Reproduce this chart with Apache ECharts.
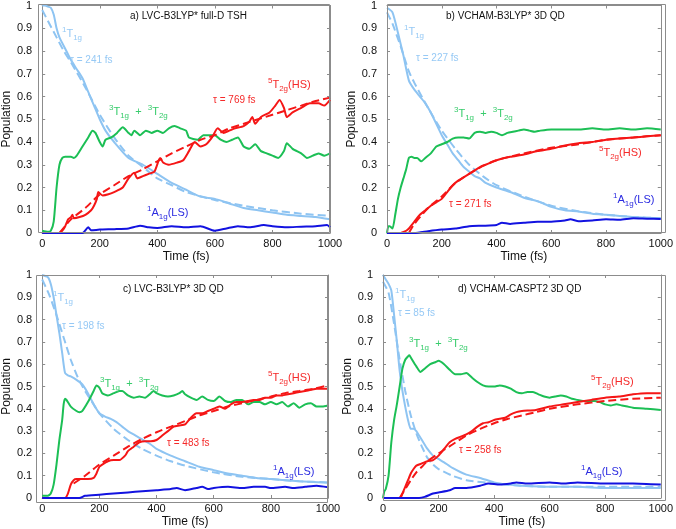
<!DOCTYPE html>
<html><head><meta charset="utf-8">
<script src="https://cdn.jsdelivr.net/npm/echarts@6/dist/echarts.min.js"></script>
<style>html,body{margin:0;padding:0;background:#fff}#c{width:676px;height:529px}</style>
</head><body><div id="c"></div>
<script>
// ---------- data (time fs, population) ----------
const xTicks = [0, 200, 400, 600, 800, 1000];
const yTicks = [0, 0.1, 0.2, 0.3, 0.4, 0.5, 0.6, 0.7, 0.8, 0.9, 1];

// Panel a) LVC-B3LYP* full-D TSH
const a_T1 = [[0,1.0],[10,1.0],[20,0.995],[30,0.99],[40,0.96],[50,0.9],[60,0.86],[80,0.81],[100,0.76],[120,0.72],[140,0.68],[160,0.62],[180,0.56],[200,0.5],[220,0.45],[250,0.4],[300,0.33],[350,0.3],[400,0.26],[450,0.22],[500,0.19],[550,0.16],[600,0.15],[650,0.13],[700,0.11],[750,0.1],[800,0.09],[850,0.08],[900,0.075],[950,0.07],[1000,0.06]];
const a_T1fit = [[0,0.98],[25,0.92],[50,0.86],[75,0.8],[100,0.75],[150,0.64],[200,0.52],[250,0.42],[300,0.34],[350,0.29],[400,0.24],[450,0.21],[500,0.18],[600,0.145],[700,0.12],[800,0.1],[900,0.085],[1000,0.075]];
const a_T3 = [[0,0.01],[20,0.005],[30,0.01],[40,0.05],[50,0.2],[60,0.3],[70,0.33],[80,0.335],[100,0.335],[110,0.33],[120,0.34],[140,0.38],[160,0.42],[175,0.45],[185,0.44],[200,0.4],[210,0.38],[220,0.41],[240,0.42],[260,0.44],[280,0.465],[300,0.44],[310,0.43],[320,0.45],[340,0.43],[360,0.45],[380,0.44],[400,0.45],[420,0.44],[440,0.46],[460,0.47],[480,0.46],[500,0.45],[510,0.42],[540,0.41],[560,0.43],[580,0.43],[600,0.43],[620,0.41],[640,0.4],[660,0.41],[680,0.42],[700,0.38],[720,0.37],[740,0.39],[760,0.36],[780,0.35],[800,0.34],[820,0.33],[840,0.36],[850,0.395],[870,0.37],[900,0.35],[920,0.33],[940,0.34],[960,0.35],[980,0.34],[1000,0.35]];
const a_T5 = [[0,0],[60,0],[70,0.01],[80,0.03],[90,0.06],[100,0.07],[105,0.08],[110,0.065],[130,0.07],[150,0.08],[170,0.1],[180,0.12],[190,0.15],[195,0.18],[210,0.165],[230,0.17],[250,0.18],[280,0.2],[300,0.24],[320,0.265],[330,0.24],[350,0.25],[370,0.26],[390,0.27],[405,0.32],[410,0.33],[420,0.31],[440,0.3],[470,0.31],[490,0.32],[510,0.36],[530,0.4],[550,0.38],[570,0.39],[590,0.42],[610,0.46],[630,0.44],[650,0.45],[670,0.46],[700,0.47],[720,0.49],[730,0.51],[740,0.48],[760,0.51],[790,0.53],[810,0.56],[825,0.585],[840,0.55],[850,0.51],[870,0.53],[900,0.55],[930,0.57],[960,0.57],[980,0.56],[1000,0.585]];
const a_T5fit = [[60,0],[100,0.06],[150,0.11],[200,0.17],[250,0.21],[300,0.25],[350,0.28],[400,0.315],[450,0.35],[500,0.38],[550,0.41],[600,0.43],[650,0.46],[700,0.48],[750,0.5],[800,0.52],[850,0.54],[900,0.56],[950,0.58],[1000,0.595]];
const a_A1 = [[0,0],[140,0],[160,0.025],[170,0.012],[200,0.015],[250,0.017],[300,0.02],[340,0.032],[370,0.025],[400,0.022],[450,0.03],[500,0.025],[550,0.03],[600,0.01],[640,0.02],[680,0.03],[720,0.025],[770,0.035],[800,0.03],[850,0.025],[900,0.028],[950,0.03],[990,0.035],[1000,0.025]];

// Panel b) VCHAM-B3LYP* 3D QD
const b_T1 = [[0,0.99],[20,0.97],[40,0.88],[60,0.78],[80,0.67],[100,0.63],[120,0.6],[140,0.57],[160,0.53],[180,0.48],[200,0.43],[220,0.39],[240,0.35],[260,0.32],[280,0.29],[300,0.27],[320,0.25],[340,0.24],[360,0.22],[400,0.2],[450,0.18],[500,0.155],[550,0.14],[600,0.115],[650,0.1],[700,0.095],[750,0.085],[800,0.08],[850,0.075],[900,0.07],[1000,0.065]];
const b_T1fit = [[0,0.97],[20,0.92],[50,0.82],[80,0.71],[100,0.66],[150,0.55],[200,0.45],[250,0.37],[300,0.3],[350,0.25],[400,0.21],[500,0.16],[600,0.12],[700,0.095],[800,0.08],[900,0.07],[1000,0.065]];
const b_T3 = [[0,0],[5,0.03],[10,0.03],[20,0.02],[30,0.08],[40,0.15],[50,0.2],[60,0.24],[70,0.28],[80,0.33],[90,0.335],[100,0.33],[110,0.33],[125,0.315],[140,0.33],[160,0.35],[180,0.38],[200,0.39],[220,0.4],[240,0.415],[260,0.42],[280,0.42],[300,0.415],[320,0.44],[340,0.445],[360,0.44],[380,0.445],[400,0.44],[420,0.43],[440,0.44],[460,0.445],[480,0.45],[500,0.455],[520,0.45],[540,0.445],[560,0.45],[600,0.455],[650,0.455],[700,0.455],[750,0.46],[800,0.455],[850,0.46],[900,0.455],[950,0.46],[1000,0.455]];
const b_T5 = [[0,0],[50,0],[60,0.005],[70,0.01],[80,0.02],[90,0.035],[100,0.05],[120,0.08],[140,0.1],[160,0.12],[180,0.135],[200,0.15],[220,0.18],[240,0.21],[260,0.23],[280,0.245],[300,0.26],[320,0.275],[340,0.29],[360,0.3],[380,0.31],[400,0.32],[450,0.335],[500,0.345],[550,0.36],[600,0.37],[650,0.385],[700,0.395],[750,0.4],[800,0.41],[850,0.415],[900,0.42],[950,0.425],[1000,0.43]];
const b_T5fit = [[80,0],[100,0.04],[150,0.11],[200,0.16],[250,0.22],[300,0.26],[350,0.295],[400,0.32],[500,0.35],[600,0.375],[700,0.39],[800,0.41],[900,0.42],[1000,0.43]];
const b_A1 = [[0,0],[100,0],[150,0.008],[200,0.015],[250,0.02],[300,0.03],[350,0.032],[400,0.035],[420,0.045],[450,0.04],[500,0.045],[550,0.05],[600,0.05],[650,0.055],[670,0.06],[700,0.052],[750,0.055],[800,0.06],[850,0.058],[900,0.065],[950,0.063],[1000,0.062]];

// Panel c) LVC-B3LYP* 3D QD
const c_T1 = [[0,1.0],[20,0.99],[30,0.96],[40,0.9],[50,0.82],[60,0.74],[70,0.65],[80,0.56],[90,0.55],[100,0.545],[120,0.53],[140,0.51],[160,0.47],[180,0.42],[200,0.38],[220,0.365],[240,0.355],[260,0.34],[280,0.32],[300,0.3],[320,0.285],[340,0.27],[360,0.255],[380,0.24],[400,0.22],[450,0.19],[500,0.165],[550,0.14],[600,0.125],[650,0.11],[700,0.1],[750,0.09],[800,0.085],[900,0.075],[1000,0.068]];
const c_T1fit = [[0,0.98],[25,0.91],[50,0.82],[75,0.72],[100,0.62],[125,0.54],[150,0.48],[175,0.43],[200,0.38],[250,0.31],[300,0.26],[350,0.22],[400,0.19],[450,0.165],[500,0.145],[600,0.115],[700,0.095],[800,0.085],[900,0.075],[1000,0.07]];
const c_T3 = [[0,0.01],[20,0.01],[30,0.02],[40,0.06],[50,0.15],[60,0.26],[70,0.35],[75,0.42],[80,0.445],[85,0.44],[100,0.41],[120,0.39],[130,0.385],[140,0.39],[160,0.43],[180,0.48],[190,0.505],[200,0.495],[210,0.47],[230,0.46],[250,0.47],[270,0.48],[280,0.48],[300,0.46],[320,0.45],[340,0.455],[360,0.45],[380,0.47],[390,0.48],[400,0.47],[420,0.46],[440,0.455],[460,0.46],[480,0.47],[490,0.48],[500,0.465],[520,0.45],[540,0.44],[560,0.455],[580,0.44],[600,0.435],[620,0.455],[640,0.435],[660,0.43],[680,0.44],[700,0.44],[720,0.42],[740,0.43],[760,0.43],[780,0.42],[800,0.43],[820,0.42],[840,0.43],[860,0.41],[880,0.425],[900,0.405],[920,0.42],[940,0.425],[960,0.41],[980,0.41],[1000,0.415]];
const c_T5 = [[0,0],[80,0],[90,0.02],[100,0.06],[110,0.08],[120,0.085],[140,0.085],[160,0.085],[180,0.09],[190,0.11],[200,0.14],[210,0.15],[230,0.165],[250,0.17],[270,0.17],[290,0.19],[300,0.21],[320,0.23],[340,0.25],[360,0.255],[380,0.255],[400,0.26],[420,0.28],[440,0.3],[460,0.32],[480,0.325],[500,0.33],[520,0.36],[540,0.38],[560,0.38],[580,0.39],[600,0.4],[620,0.41],[640,0.4],[660,0.42],[680,0.43],[700,0.43],[720,0.435],[740,0.44],[760,0.44],[780,0.45],[800,0.45],[820,0.46],[840,0.46],[860,0.465],[880,0.47],[900,0.475],[920,0.48],[940,0.485],[960,0.49],[1000,0.49]];
const c_T5fit = [[110,0.065],[150,0.1],[200,0.15],[250,0.19],[300,0.23],[350,0.265],[400,0.295],[450,0.32],[500,0.345],[550,0.37],[600,0.39],[650,0.41],[700,0.425],[750,0.44],[800,0.455],[850,0.47],[900,0.48],[950,0.49],[1000,0.505]];
const c_A1 = [[0,0],[130,0],[150,0.01],[200,0.015],[250,0.02],[300,0.025],[350,0.03],[400,0.035],[450,0.04],[470,0.045],[500,0.035],[540,0.045],[560,0.05],[580,0.04],[600,0.045],[650,0.05],[700,0.045],[740,0.05],[780,0.05],[800,0.045],[850,0.05],[880,0.045],[920,0.05],[960,0.055],[1000,0.048]];

// Panel d) VCHAM-CASPT2 3D QD
const d_T1 = [[0,1.0],[10,0.98],[20,0.96],[30,0.93],[40,0.82],[50,0.7],[60,0.57],[70,0.48],[80,0.41],[90,0.35],[100,0.31],[110,0.31],[120,0.3],[130,0.28],[140,0.26],[160,0.22],[180,0.19],[200,0.175],[220,0.16],[250,0.135],[300,0.105],[350,0.09],[400,0.07],[450,0.06],[500,0.055],[600,0.05],[700,0.05],[800,0.045],[900,0.045],[1000,0.045]];
const d_T1fit = [[0,0.97],[20,0.92],[40,0.78],[60,0.62],[80,0.48],[100,0.37],[120,0.29],[140,0.23],[160,0.18],[180,0.15],[200,0.13],[250,0.1],[300,0.08],[400,0.065],[500,0.055],[600,0.05],[800,0.05],[1000,0.05]];
const d_T3 = [[0,0],[5,0.03],[10,0.04],[20,0.1],[30,0.25],[40,0.35],[50,0.42],[60,0.5],[70,0.58],[80,0.62],[90,0.635],[95,0.64],[100,0.63],[120,0.59],[135,0.565],[150,0.58],[170,0.6],[190,0.61],[200,0.615],[220,0.6],[240,0.575],[260,0.555],[280,0.555],[300,0.56],[320,0.54],[340,0.52],[360,0.505],[380,0.5],[400,0.5],[420,0.505],[440,0.5],[460,0.49],[480,0.475],[500,0.47],[520,0.475],[540,0.475],[560,0.465],[580,0.455],[600,0.45],[620,0.455],[640,0.46],[660,0.455],[680,0.445],[700,0.44],[720,0.435],[740,0.435],[760,0.435],[780,0.43],[800,0.42],[820,0.415],[840,0.42],[860,0.415],[880,0.41],[900,0.405],[950,0.4],[1000,0.395]];
const d_T5 = [[0,0],[60,0],[65,0.005],[70,0.02],[80,0.05],[90,0.08],[100,0.11],[110,0.13],[120,0.145],[140,0.155],[160,0.165],[180,0.17],[200,0.19],[220,0.22],[240,0.25],[260,0.265],[280,0.275],[300,0.285],[320,0.3],[340,0.32],[360,0.335],[380,0.34],[400,0.35],[420,0.355],[440,0.36],[460,0.375],[480,0.385],[500,0.39],[550,0.395],[600,0.41],[650,0.42],[700,0.43],[750,0.44],[800,0.45],[850,0.455],[900,0.465],[950,0.47],[1000,0.47]];
const d_T5fit = [[60,0],[80,0.04],[100,0.08],[120,0.115],[140,0.14],[160,0.165],[200,0.2],[250,0.24],[300,0.28],[350,0.31],[400,0.335],[450,0.355],[500,0.37],[550,0.385],[600,0.4],[700,0.42],[800,0.435],[900,0.445],[1000,0.45]];
const d_A1 = [[0,0],[130,0],[150,0.005],[180,0.02],[200,0.025],[240,0.035],[260,0.045],[300,0.045],[350,0.055],[380,0.065],[420,0.06],[460,0.065],[480,0.07],[520,0.065],[600,0.07],[650,0.065],[700,0.07],[800,0.065],[900,0.065],[1000,0.06]];

const panelTitles = ['a) LVC-B3LYP* full-D TSH', 'b) VCHAM-B3LYP* 3D QD', 'c) LVC-B3LYP* 3D QD', 'd) VCHAM-CASPT2 3D QD'];
const tauT1 = ['241', '227', '198', '85'];
const tauT5 = ['769', '271', '483', '258'];

// ---------- styling / layout ----------
const FONT = "'Liberation Sans', Arial, Helvetica, sans-serif";
const C_LB = '#8ec4f2', C_GR = '#1cbf55', C_RD = '#f51616', C_BL = '#1212e0';
const L_LB = '#96c9f5', L_GR = '#38cc6c', L_RD = '#f52a2a', L_BL = '#2a2ae0';
const FRAME = '#8c8c8c';

const grids = [
  {left: 38, top: 4, width: 292, height: 229},
  {left: 387, top: 4, width: 279, height: 229},
  {left: 36, top: 275, width: 292, height: 228},
  {left: 383, top: 275, width: 283, height: 226}
];

const panels = [
  [a_T1, a_T1fit, a_T3, a_T5, a_T5fit, a_A1],
  [b_T1, b_T1fit, b_T3, b_T5, b_T5fit, b_A1],
  [c_T1, c_T1fit, c_T3, c_T5, c_T5fit, c_A1],
  [d_T1, d_T1fit, d_T3, d_T5, d_T5fit, d_A1]
];

const lineStyleAx = () => ({show: true, onZero: false, lineStyle: {color: FRAME, width: 1}});
const tickAx = () => ({show: true, inside: true, length: 3, lineStyle: {color: FRAME, width: 1}});
const xAxes = [], yAxes = [], series = [];
grids.forEach((g, i) => {
  xAxes.push({type: 'value', gridIndex: i, min: xTicks[0], max: xTicks[xTicks.length-1], interval: 200,
    position: 'bottom', axisLine: lineStyleAx(), axisTick: tickAx(), splitLine: {show: false},
    name: 'Time (fs)', nameLocation: 'middle', nameGap: 18,
    nameTextStyle: {fontFamily: FONT, fontSize: 12, color: '#111'},
    axisLabel: {fontFamily: FONT, fontSize: 11, color: '#111', margin: 5, formatter: v => String(v)}});
  yAxes.push({type: 'value', gridIndex: i, min: yTicks[0], max: yTicks[yTicks.length-1], interval: 0.1,
    position: 'left', axisLine: lineStyleAx(), axisTick: tickAx(), splitLine: {show: false},
    name: 'Population', nameLocation: 'middle', nameGap: 21,
    nameTextStyle: {fontFamily: FONT, fontSize: 12, color: '#111'},
    axisLabel: {fontFamily: FONT, fontSize: 11, color: '#111', margin: 10}});
});
grids.forEach((g, i) => {
  xAxes.push({type: 'value', gridIndex: i, min: 0, max: 1000, interval: 200, position: 'top',
    axisLine: lineStyleAx(), axisTick: tickAx(), axisLabel: {show: false}, splitLine: {show: false}});
  yAxes.push({type: 'value', gridIndex: i, min: 0, max: 1, interval: 0.1, position: 'right',
    axisLine: lineStyleAx(), axisTick: tickAx(), axisLabel: {show: false}, splitLine: {show: false}});
});

function mk(data, color, dashed, gi) {
  return {type: 'line', data: data, xAxisIndex: gi, yAxisIndex: gi, symbol: 'none', smooth: 0.2, z: 3,
    lineStyle: {color: color, width: 2, type: dashed ? 'dashed' : 'solid'}};
}
panels.forEach((p, i) => {
  series.push(mk(p[0], C_LB, false, i));
  series.push(mk(p[1], C_LB, true, i));
  series.push(mk(p[2], C_GR, false, i));
  series.push(mk(p[3], C_RD, false, i));
  series.push(mk(p[4], C_RD, true, i));
  series.push(mk(p[5], C_BL, false, i));
  series.push({type: 'line', data: [], xAxisIndex: 4 + i, yAxisIndex: 4 + i});
});

// ---------- annotations ----------
const richBase = (color) => ({
  b: {fontFamily: FONT, fontSize: 11, color: color, lineHeight: 16, verticalAlign: 'middle'},
  t: {fontFamily: FONT, fontSize: 10, color: color, lineHeight: 16, verticalAlign: 'middle'},
  sup: {fontFamily: FONT, fontSize: 8, color: color, lineHeight: 8, verticalAlign: 'top'},
  sub: {fontFamily: FONT, fontSize: 8, color: color, lineHeight: 8, verticalAlign: 'bottom'}
});
function ann(text, left, top, color) {
  return {text: text, left: left, top: top, padding: 0, itemGap: 0,
    textStyle: {fontFamily: FONT, fontSize: 11, color: color, fontWeight: 'normal', rich: richBase(color)}};
}
const lblT1 = '{sup|1}{b|T}{sub|1g}';
const lblT3 = '{sup|3}{b|T}{sub|1g}{b|  +  }{sup|3}{b|T}{sub|2g}';
const lblT5 = '{sup|5}{b|T}{sub|2g}{b|(HS)}';
const lblA1 = '{sup|1}{b|A}{sub|1g}{b|(LS)}';
const tau = (v) => '{t|\u03c4 = ' + v + ' fs}';

const annPos = [
  {title: [130, 11], t1: [62, 26], tau1: [70, 52], t3: [109, 104], t5: [268, 77], tau5: [213, 92], a1: [147, 205]},
  {title: [446, 11], t1: [404, 24], tau1: [416, 50], t3: [454, 106], t5: [599, 145], tau5: [449, 196], a1: [613, 192]},
  {title: [123, 284], t1: [53, 290], tau1: [62, 318], t3: [100, 376], t5: [268, 370], tau5: [167, 435], a1: [273, 464]},
  {title: [458, 284], t1: [395, 287], tau1: [398, 305], t3: [409, 336], t5: [591, 374], tau5: [459, 442], a1: [581, 464]}
];
const titles = [];
annPos.forEach((p, i) => {
  titles.push({text: panelTitles[i], left: p.title[0], top: p.title[1], padding: 0,
    textStyle: {fontFamily: FONT, fontSize: 10, color: '#111', fontWeight: 'normal'}});
  titles.push(ann(lblT1, p.t1[0], p.t1[1], L_LB));
  titles.push(ann(tau(tauT1[i]), p.tau1[0], p.tau1[1], L_LB));
  titles.push(ann(lblT3, p.t3[0], p.t3[1], L_GR));
  titles.push(ann(lblT5, p.t5[0], p.t5[1], L_RD));
  titles.push(ann(tau(tauT5[i]), p.tau5[0], p.tau5[1], L_RD));
  titles.push(ann(lblA1, p.a1[0], p.a1[1], L_BL));
});

// plot frames (layout boxes around each grid)
const frames = grids.map(g => ({
  type: 'rect', silent: true, z: 50,
  shape: {x: g.left + 0.5, y: g.top + 0.5, width: g.width - 1, height: g.height - 1},
  style: {fill: null, stroke: FRAME, lineWidth: 1}
}));

const chart = echarts.init(document.getElementById('c'));
chart.setOption({
  animation: false,
  title: titles,
  grid: grids,
  xAxis: xAxes,
  yAxis: yAxes,
  series: series,
  graphic: {elements: frames}
});
</script></body></html>
